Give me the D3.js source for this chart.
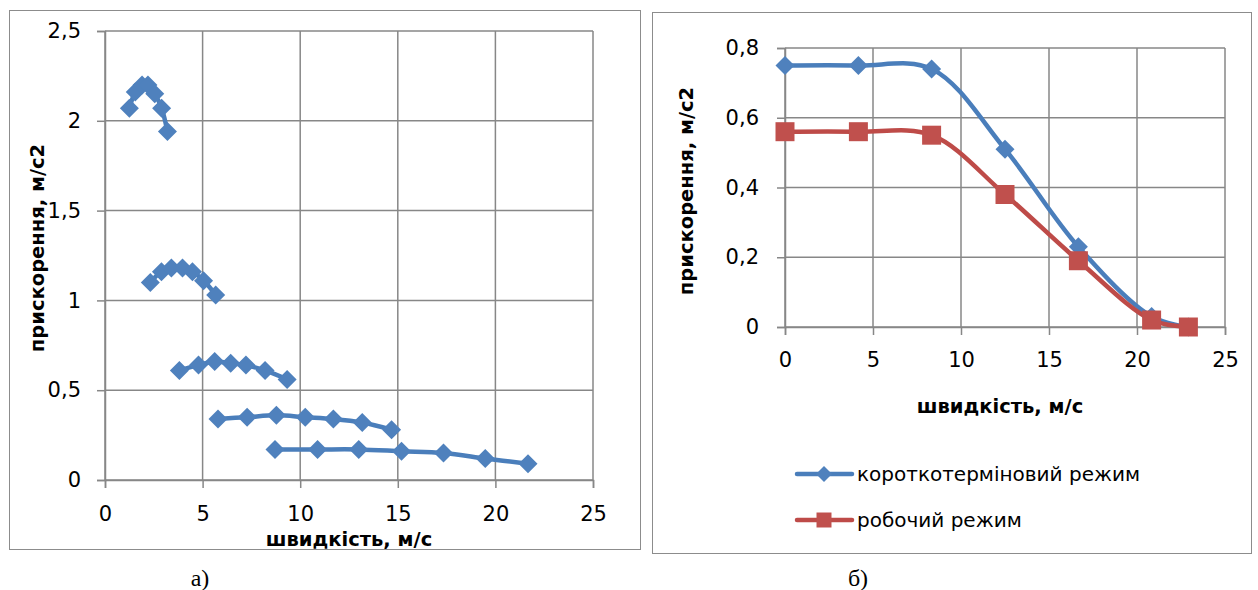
<!DOCTYPE html>
<html>
<head>
<meta charset="utf-8">
<script src="https://cdn.jsdelivr.net/npm/d3@7"></script>
<style>
  body { margin: 0; background: #fff; }
  svg { display: block; font-family: "DejaVu Sans", sans-serif; }
</style>
</head>
<body>
<svg id="chart" width="1258" height="590"></svg>
<script>
// --- data, left panel (а): five groups of points, speed m/s vs acceleration m/s2
const gearSeries = [
    [[1.25, 2.07], [1.55, 2.16], [1.9, 2.2], [2.2, 2.2], [2.55, 2.15], [2.9, 2.07], [3.2, 1.94]],
    [[2.32, 1.1], [2.89, 1.16], [3.4, 1.18], [3.97, 1.18], [4.48, 1.16], [5.05, 1.11], [5.67, 1.03]],
    [[3.81, 0.61], [4.79, 0.64], [5.62, 0.66], [6.44, 0.65], [7.22, 0.64], [8.2, 0.61], [9.33, 0.56]],
    [[5.79, 0.34], [7.28, 0.35], [8.78, 0.36], [10.26, 0.35], [11.7, 0.34], [13.18, 0.32], [14.68, 0.28]],
    [[8.71, 0.17], [10.89, 0.17], [13.0, 0.17], [15.19, 0.16], [17.34, 0.15], [19.48, 0.12], [21.67, 0.09]]
];

// --- data, right panel (б)
const speeds = [0, 4.17, 8.33, 12.5, 16.67, 20.83, 22.92];
const shortTermAcc = [0.75, 0.75, 0.74, 0.51, 0.23, 0.03, 0.0];
const workingAcc = [0.56, 0.56, 0.55, 0.38, 0.19, 0.02, 0.0];
const seriesNames = ["короткотерміновий режим", "робочий режим"];

// --- tick values
const xTicks = [0, 5, 10, 15, 20, 25];
const yTicksLeft = [0, 0.5, 1, 1.5, 2, 2.5];
const yTicksRight = [0, 0.2, 0.4, 0.6, 0.8];

const xTitle = "швидкість, м/с";
const yTitle = "прискорення, м/с2";
const panelLabels = ["а)", "б)"];

const blue = "#4a7ebb", blueFill = "#4f81bd";
const red = "#be4b48", redFill = "#c0504d";
const gridColor = "#878787";

const locale = d3.formatLocale({ decimal: ",", thousands: " ", grouping: [3], currency: ["", ""] });
const fmt = v => locale.format("~g")(v);

const svg = d3.select("#chart");

const diamond = r => `M0,${-r}L${r},0L0,${r}L${-r},0Z`;
const square = r => `M${-r},${-r}H${r}V${r}H${-r}Z`;

function drawPanel(cfg) {
    const g = svg.append("g");

    g.append("rect")
        .attr("x", cfg.frame[0] + 0.5).attr("y", cfg.frame[1] + 0.5)
        .attr("width", cfg.frame[2]).attr("height", cfg.frame[3])
        .attr("fill", "#fff").attr("stroke", "#8c8c8c").attr("stroke-width", 1);

    const x = d3.scaleLinear().domain([0, 25]).range(cfg.xRange);
    const y = d3.scaleLinear().domain(cfg.yDomain).range(cfg.yRange);

    // gridlines
    g.append("g").selectAll("line")
        .data(xTicks)
        .join("line")
        .attr("x1", d => x(d)).attr("x2", d => x(d))
        .attr("y1", y.range()[0]).attr("y2", y.range()[1])
        .attr("stroke", gridColor).attr("stroke-width", 1.5);

    g.append("g").selectAll("line")
        .data(cfg.yTicks)
        .join("line")
        .attr("x1", x.range()[0]).attr("x2", x.range()[1])
        .attr("y1", d => y(d)).attr("y2", d => y(d))
        .attr("stroke", gridColor).attr("stroke-width", 1.5);

    // axes
    const xAxis = g.append("g")
        .attr("transform", `translate(0,${y.range()[0]})`)
        .call(d3.axisBottom(x).tickValues(xTicks).tickFormat(fmt).tickSize(8).tickPadding(cfg.xPad));
    const yAxis = g.append("g")
        .attr("transform", `translate(${x.range()[0]},0)`)
        .call(d3.axisLeft(y).tickValues(cfg.yTicks).tickFormat(fmt).tickSize(8).tickPadding(cfg.yPad));

    [xAxis, yAxis].forEach(a => {
        a.select(".domain").attr("stroke", gridColor).attr("stroke-width", 1.5);
        a.selectAll(".tick line").attr("stroke", gridColor).attr("stroke-width", 1.5);
        a.selectAll(".tick text")
            .attr("fill", "#000")
            .style("font-size", "21px")
            .style("font-family", "'DejaVu Sans', sans-serif");
    });

    // axis titles
    g.append("text")
        .attr("x", cfg.xTitlePos[0]).attr("y", cfg.xTitlePos[1])
        .attr("text-anchor", "middle")
        .style("font-size", "19.5px").style("font-weight", "bold")
        .text(xTitle);

    g.append("text")
        .attr("transform", `translate(${cfg.yTitlePos[0]},${cfg.yTitlePos[1]}) rotate(-90)`)
        .attr("text-anchor", "middle")
        .style("font-size", "19.5px").style("font-weight", "bold")
        .text(yTitle);

    // panel label under the frame
    svg.append("text")
        .attr("x", cfg.labelPos[0]).attr("y", cfg.labelPos[1])
        .attr("text-anchor", "middle")
        .style("font-family", "'Liberation Serif', 'Times New Roman', serif")
        .style("font-size", "24px")
        .text(cfg.label);

    return { g, x, y };
}

const line = (x, y) => d3.line()
    .x(d => x(d[0]))
    .y(d => y(d[1]))
    .curve(d3.curveCatmullRom.alpha(0.5));

// ---- left panel
const left = drawPanel({
    frame: [9, 10, 631, 539],
    xRange: [105, 593],
    yDomain: [0, 2.5],
    yRange: [480, 31],
    yTicks: yTicksLeft,
    xPad: 18,
    yPad: 16,
    xTitlePos: [349, 546],
    yTitlePos: [44, 248],
    labelPos: [200, 586],
    label: panelLabels[0]
});

gearSeries.forEach(s => {
    left.g.append("path")
        .datum(s)
        .attr("fill", "none")
        .attr("stroke", blue)
        .attr("stroke-width", 4.5)
        .attr("d", line(left.x, left.y));

    left.g.append("g").selectAll("path")
        .data(s)
        .join("path")
        .attr("transform", d => `translate(${left.x(d[0])},${left.y(d[1])})`)
        .attr("d", diamond(9.5))
        .attr("fill", blueFill);
});

// ---- right panel
const right = drawPanel({
    frame: [652, 12, 599, 541],
    xRange: [785, 1225],
    yDomain: [0, 0.8],
    yRange: [327, 48],
    yTicks: yTicksRight,
    xPad: 17,
    yPad: 18,
    xTitlePos: [1000, 413],
    yTitlePos: [693, 191],
    labelPos: [858, 586],
    label: panelLabels[1]
});

const rightSeries = [
    { name: seriesNames[0], values: speeds.map((s, i) => [s, shortTermAcc[i]]), stroke: blue, fill: blueFill, shape: diamond(9.5) },
    { name: seriesNames[1], values: speeds.map((s, i) => [s, workingAcc[i]]), stroke: red, fill: redFill, shape: square(9.5) }
];

rightSeries.forEach(s => {
    right.g.append("path")
        .datum(s.values)
        .attr("fill", "none")
        .attr("stroke", s.stroke)
        .attr("stroke-width", 4.5)
        .attr("d", line(right.x, right.y));
});
rightSeries.forEach(s => {
    right.g.append("g").selectAll("path")
        .data(s.values)
        .join("path")
        .attr("transform", d => `translate(${right.x(d[0])},${right.y(d[1])})`)
        .attr("d", s.shape)
        .attr("fill", s.fill);
});

// legend
const legend = right.g.append("g").attr("transform", "translate(797,474)");
rightSeries.forEach((s, i) => {
    const row = legend.append("g").attr("transform", `translate(0,${i * 46})`);
    row.append("line")
        .attr("x1", 0).attr("x2", 55)
        .attr("stroke", s.stroke).attr("stroke-width", 4.5)
        .attr("stroke-linecap", "round");
    row.append("path")
        .attr("transform", "translate(27,0)")
        .attr("d", i === 0 ? diamond(8) : square(7.5))
        .attr("fill", s.fill);
    row.append("text")
        .attr("x", 60).attr("y", 7)
        .style("font-size", "20px")
        .text(s.name);
});
</script>
</body>
</html>
